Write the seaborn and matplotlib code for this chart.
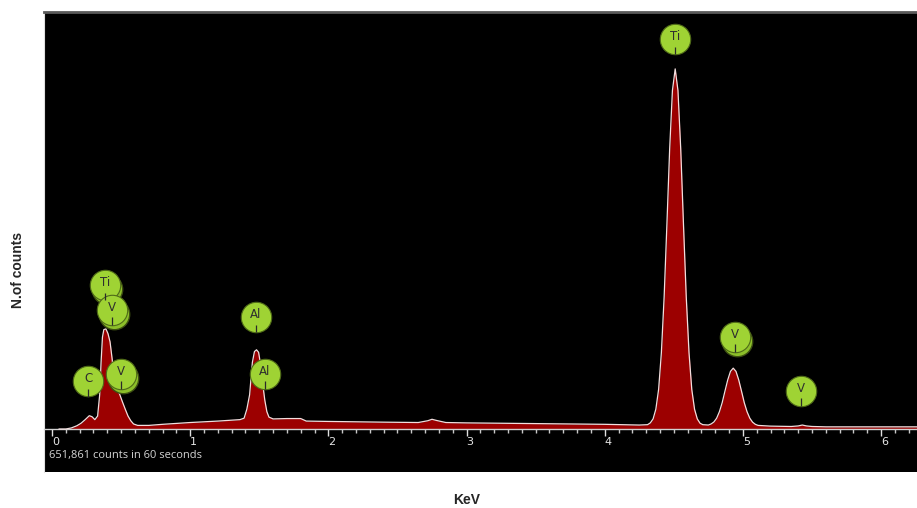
import matplotlib
matplotlib.use("Agg")
import matplotlib.pyplot as plt
import seaborn as sns
import pandas as pd

# EDS spectrum (energy in keV, counts in % of the Ti peak)
energy = [0.05, 0.10, 0.14, 0.18, 0.21, 0.24, 0.27, 0.29, 0.31, 0.33, 0.345, 0.355,
          0.365, 0.375, 0.39, 0.405, 0.42, 0.435, 0.445, 0.455, 0.47, 0.49, 0.51,
          0.53, 0.55, 0.57, 0.59, 0.62, 0.70, 0.80, 1.00, 1.20, 1.36, 1.39, 1.41,
          1.43, 1.45, 1.465, 1.48, 1.495, 1.51, 1.525, 1.54, 1.555, 1.57, 1.60,
          1.70, 1.80, 1.84, 2.00, 2.40, 2.65, 2.72, 2.75, 2.78, 2.85, 3.00, 3.50,
          4.00, 4.25, 4.31, 4.33, 4.35, 4.37, 4.39, 4.41, 4.43, 4.45, 4.47, 4.49,
          4.51, 4.53, 4.55, 4.57, 4.59, 4.61, 4.63, 4.65, 4.67, 4.69, 4.71, 4.75,
          4.77, 4.79, 4.81, 4.83, 4.85, 4.87, 4.89, 4.91, 4.93, 4.95, 4.97, 4.99,
          5.01, 5.03, 5.05, 5.07, 5.09, 5.11, 5.20, 5.35, 5.40, 5.43, 5.46, 5.50,
          5.60, 6.00, 6.30]
counts = [0.0, 0.0, 0.3, 0.9, 1.6, 2.6, 3.7, 3.4, 2.6, 3.6, 9.5, 18.5,
          25.5, 27.6, 27.8, 26.5, 24.2, 19.5, 15.5, 13.0, 11.2, 9.6, 7.5,
          5.5, 3.6, 2.3, 1.4, 1.0, 1.0, 1.3, 1.8, 2.2, 2.6, 3.0, 5.5,
          9.5, 18.5, 21.5, 22.0, 21.3, 17.8, 12.5, 8.0, 4.8, 3.3, 2.8,
          2.9, 2.9, 2.2, 2.1, 1.9, 1.8, 2.3, 2.7, 2.4, 1.8, 1.7, 1.5,
          1.3, 1.1, 1.2, 1.7, 2.8, 5.5, 11.0, 21.2, 36.7, 56.8, 77.8, 94.0,
          100.0, 94.0, 77.8, 56.8, 36.7, 21.2, 11.0, 5.5, 2.8, 1.6, 1.2, 1.1,
          1.4, 1.95, 3.0, 4.8, 7.3, 10.5, 13.6, 16.0, 16.9, 16.0, 13.6, 10.5,
          7.3, 4.8, 3.0, 1.9, 1.3, 1.0, 0.8, 0.7, 0.85, 1.1, 0.85, 0.7,
          0.6, 0.6, 0.6]

# element markers: label, energy position, height of the bubble, drawn doubled
peak_labels = ["Ti", "Ti", "V", "C", "V", "Al", "Al", "V", "V"]
label_energy = [4.511, 0.385, 0.436, 0.262, 0.50, 1.476, 1.541, 4.944, 5.421]
label_height = [108.3, 40.0, 33.1, 13.3, 15.3, 31.1, 15.3, 25.6, 10.6]
label_double = [False, True, True, False, True, False, False, True, False]

df = pd.DataFrame({"energy": energy, "counts": counts})
lab = pd.DataFrame({"el": peak_labels, "e": label_energy, "h": label_height,
                    "dbl": label_double})

sns.set_style("white")
fig = plt.figure(figsize=(9.17, 5.08), dpi=100)
ax = fig.add_axes([44 / 917, 36 / 508, 873 / 917, 460 / 508])
ax.set_facecolor("black")

ax.fill_between(df["energy"], df["counts"], 0, color="#9c0000", lw=0, zorder=2)
sns.lineplot(data=df, x="energy", y="counts", color="#f2dede", lw=0.9, ax=ax,
             zorder=3)

# bubbles
shadow = lab[lab["dbl"]]
ax.scatter(shadow["e"] + 0.012, shadow["h"] - 1.2, s=480, color="#8cbf2a",
           edgecolor="#3d4f12", lw=1.0, zorder=4)
sns.scatterplot(data=lab, x="e", y="h", s=480, color="#9fd334",
                edgecolor="#4f6a18", linewidth=0.8, ax=ax, zorder=5)
ax.vlines(lab["e"], lab["h"] - 4.3, lab["h"] - 2.1, color="#2a2a2a", lw=0.9,
          zorder=6)
for _, r in lab.iterrows():
    ax.text(r["e"], r["h"] + 0.6, r["el"], ha="center", va="center",
            fontsize=8.5, color="#2e2e2e", zorder=7)

ax.set_xlim(-0.058, 6.26)
ax.set_ylim(-11.94, 115.8)

# x axis drawn on the baseline inside the black panel
ax.spines["bottom"].set_position(("data", 0))
ax.spines["bottom"].set_color("#d0d0d0")
ax.spines["bottom"].set_linewidth(1.0)
ax.spines["top"].set_color("#5a5a5a")
ax.spines["top"].set_linewidth(2)
ax.spines["left"].set_color("#e0e0e0")
ax.spines["right"].set_visible(False)
ax.set_xticks(range(0, 7))
ax.set_xticks([i / 10 for i in range(0, 63)], minor=True)
ax.tick_params(axis="x", which="major", bottom=True, direction="out", length=5,
               width=1, color="#e0e0e0", labelcolor="#e6e6e6", labelsize=8,
               pad=1)
ax.tick_params(axis="x", which="minor", bottom=True, direction="out", length=3,
               width=1, color="#c8c8c8")
for t in ax.get_xticklabels():
    t.set_ha("left")
ax.set_yticks([])
ax.set_xlabel("")
ax.set_ylabel("")

ax.text(0.006, 0.035, "651,861 counts in 60 seconds", transform=ax.transAxes,
        fontsize=8, color="#d4d4d4", family="Open Sans", va="center")

fig.text(18 / 917, 1 - 270 / 508, "N.of counts", rotation=90, ha="center",
         va="center", fontsize=10, fontweight="bold", family="Liberation Sans")
fig.text(467 / 917, 1 - 500 / 508, "KeV", ha="center", va="center",
         fontsize=10, fontweight="bold", family="Liberation Sans")

fig.savefig("out.png", dpi=100)
